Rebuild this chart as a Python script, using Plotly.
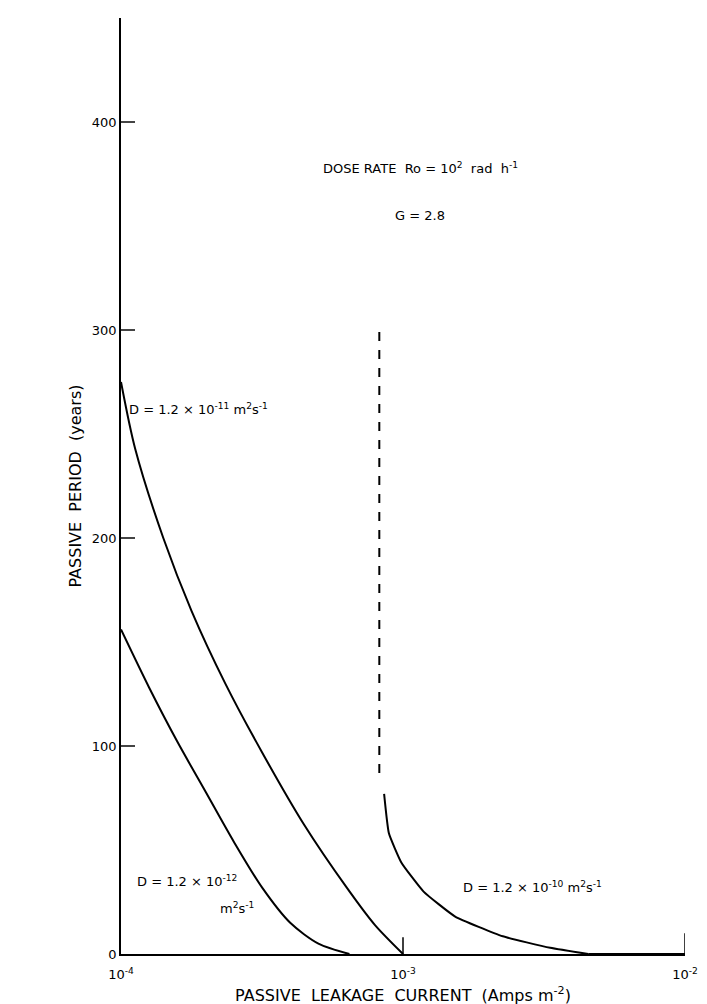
import plotly.graph_objects as go
import numpy as np

# D = 1.2e-11 curve
c1_logx = [-4.0, -3.95, -3.85, -3.75, -3.63, -3.5, -3.35, -3.2, -3.1, -3.0]
c1_y = [275, 243, 200, 165, 130, 97, 62, 32, 14, 0]
# D = 1.2e-12 curve
c2_logx = [-4.0, -3.9, -3.8, -3.7, -3.6, -3.5, -3.4, -3.3, -3.19]
c2_y = [156, 128, 102, 78, 54, 32, 15, 5, 0]
# D = 1.2e-10 curve
c3_logx = [-3.067, -3.05, -3.006, -2.927, -2.815, -2.646, -2.478, -2.343]
c3_y = [77, 58, 44, 30, 18, 8.5, 3, 0]
flat_logx = [-2.343, -2.0]
flat_y = [0, 0]
dash_logx = -3.084
dash_y = [87, 301]

yticks = [0, 100, 200, 300, 400]
xtick_vals = [1e-4, 1e-3, 1e-2]
xtick_text = ["10<sup>-4</sup>", "10<sup>-3</sup>", "10<sup>-2</sup>"]

def tx(l):
    return [10 ** v for v in l]

fig = go.Figure()
sp = dict(color="black", width=2, shape="spline", smoothing=0.8)
fig.add_trace(go.Scatter(x=tx(c1_logx), y=c1_y, mode="lines", line=sp))
fig.add_trace(go.Scatter(x=tx(c2_logx), y=c2_y, mode="lines", line=sp))
fig.add_trace(go.Scatter(x=tx(c3_logx), y=c3_y, mode="lines", line=dict(color="black", width=2, shape="spline", smoothing=0.4)))
fig.add_trace(go.Scatter(x=tx(flat_logx), y=flat_y, mode="lines", line=dict(color="black", width=2)))
fig.add_trace(go.Scatter(x=[10 ** dash_logx] * 2, y=dash_y, mode="lines", line=dict(color="black", width=2, dash="dash")))
# small tick marks at 1e-3 and 1e-2
fig.add_trace(go.Scatter(x=[1e-3, 1e-3, None, 1e-2, 1e-2], y=[0, 8, None, 0, 10], mode="lines", line=dict(color="black", width=1.5)))

f = dict(family="DejaVu Sans", size=13, color="black")
fig.add_annotation(x=np.log10(1.15e-3), y=378, text="DOSE RATE  Ro = 10<sup>2</sup>  rad  h<sup>-1</sup>", showarrow=False, font=f)
fig.add_annotation(x=np.log10(1.15e-3), y=355, text="G = 2.8", showarrow=False, font=f)
fig.add_annotation(x=np.log10(1.05e-4), y=262, text="D = 1.2 × 10<sup>-11</sup> m<sup>2</sup>s<sup>-1</sup>", showarrow=False, xanchor="left", font=f)
fig.add_annotation(x=np.log10(1.6e-3), y=32, text="D = 1.2 × 10<sup>-10</sup> m<sup>2</sup>s<sup>-1</sup>", showarrow=False, xanchor="left", font=f)
fig.add_annotation(x=np.log10(1.12e-4), y=35, text="D = 1.2 × 10<sup>-12</sup>", showarrow=False, xanchor="left", font=f)
fig.add_annotation(x=np.log10(2.2e-4), y=22, text="m<sup>2</sup>s<sup>-1</sup>", showarrow=False, xanchor="left", font=f)

fig.update_layout(
    width=707, height=1004, plot_bgcolor="white", paper_bgcolor="white",
    showlegend=False, margin=dict(l=113, r=30, t=10, b=46),
    font=f,
)
fig.update_xaxes(type="log", range=[-4, -2], tickvals=xtick_vals, ticktext=xtick_text,
                 showgrid=False, showline=True, linecolor="black", linewidth=1.5, ticks="",
                 ticklabelstandoff=8,
                 title=dict(text="PASSIVE  LEAKAGE  CURRENT  (Amps m<sup>-2</sup>)", standoff=8), zeroline=False)
fig.update_yaxes(range=[0, 450], tickvals=yticks, showgrid=False, showline=True, linecolor="black",
                 linewidth=1.5, ticks="inside", ticklen=14, tickwidth=2, zeroline=False,
                 title=dict(text="PASSIVE  PERIOD  (years)", standoff=6))
fig.write_html("out.html")
